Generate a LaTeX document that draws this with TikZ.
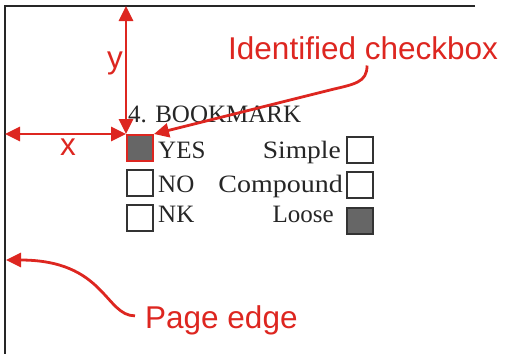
\documentclass[tikz,border=0pt]{standalone}
\usepackage{fontspec}
\setmainfont{Liberation Serif}
\newfontfamily\labelfont{Liberation Sans}
\usetikzlibrary{arrows.meta}
\definecolor{markred}{RGB}{221,38,32}

\begin{document}
\begin{tikzpicture}[x=1pt,y=-1pt,
    edge/.style={black!85, line width=2.5pt},
    callout/.style={markred, line width=2.8pt, >={Triangle[length=15pt,width=14pt]}},
    tag/.style={markred, inner sep=0pt, font=\labelfont\fontsize{31.5}{32}\selectfont},
    form/.style={black!85, inner sep=0pt, font=\fontsize{25}{25}\selectfont},
    cbox/.style={draw=black!80, line width=1.4pt, minimum size=26pt, inner sep=0pt},
    ticked/.style={cbox, fill=black!60}]
    \useasboundingbox (0,0) rectangle (505,354);

    % Page corner
    \coordinate (TL) at (5,6);
    \coordinate (TR) at (475,6);
    \coordinate (BL) at (5,354);
    \coordinate (edgept) at (6,260);
    \draw [edge] (TR) -- (TL) -- (BL);

    % Scanned form field
    \node [form, anchor=base west] (title) at (128,122) {4. BOOKMARK};
    \node [ticked, draw=markred, line width=2pt] (yes) at (140,148) {};
    \node [cbox] (no) at (140,183) {};
    \node [cbox] (nk) at (140,218) {};
    \node [cbox] (simple) at (360,150) {};
    \node [cbox] (compound) at (360,185) {};
    \node [ticked] (loose) at (360,221) {};

    \node [form, anchor=base west] (yestxt) at (158,158) {YES};
    \node [form, anchor=base west] (notxt) at (158,192) {NO};
    \node [form, anchor=base west] (nktxt) at (158,222) {NK};
    \node [form, anchor=base east, xscale=1.1] (simpletxt) at (341,158) {Simple};
    \node [form, anchor=base east, xscale=1.12] (compoundtxt) at (343,192) {Compound};
    \node [form, anchor=base east] (loosetxt) at (334,222) {Loose};

    % Offsets from the page edge
    \draw [callout, <->] (yes.north west |- TL) -- (yes.north west);
    \draw [callout, <->] (TL |- yes.north west) -- (yes.north west);
    \node [tag, anchor=base] (ylab) at (115,68) {y};
    \node [tag, anchor=base] (xlab) at (68,155) {x};

    % Callouts
    \node [tag, anchor=base west] (idlab) at (228,59) {Identified checkbox};
    \node [tag, anchor=base west] (edgelab) at (145,328) {Page edge};
    \draw [callout, ->] ([xshift=4pt,yshift=-6pt]idlab.south) .. controls +(0,17) and (355,84) .. (330,90) -- (yes.north east);
    \draw [callout, ->] ([xshift=-10pt,yshift=4pt]edgelab.west) .. controls +(-30,0) and (105,260) .. (edgept);

\end{tikzpicture}
\end{document}
